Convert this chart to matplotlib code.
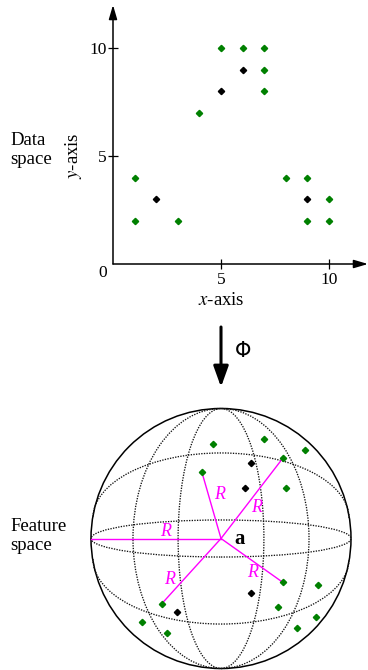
import numpy as np
import matplotlib
matplotlib.use("Agg")
import matplotlib.pyplot as plt
from matplotlib.patches import Ellipse, Arc

plt.rcParams["mathtext.fontset"] = "stix"

# --- data space (x, y) ---
green_x = [1, 1, 3, 4, 5, 6, 7, 7, 7, 8, 9, 9, 10, 10]
green_y = [4, 2, 2, 7, 10, 10, 10, 9, 8, 4, 4, 2, 3, 2]
black_x = [2, 5, 6, 9]
black_y = [3, 8, 9, 3]
x_ticks = [5, 10]
y_ticks = [5, 10]

# --- feature space, unit-sphere coordinates (centre = a) ---
feat_green_x = [-0.064, 0.331, 0.646, 0.475, -0.148, 0.500, 0.475, 0.746,
                -0.456, 0.436, -0.605, 0.728, -0.418, 0.582]
feat_green_y = [0.725, 0.765, 0.681, 0.617, 0.514, 0.391, -0.337, -0.358,
                -0.502, -0.525, -0.645, -0.606, -0.729, -0.691]
feat_black_x = [0.228, 0.185, 0.228, -0.336]
feat_black_y = [0.578, 0.391, -0.417, -0.565]
# radius lines: to left rim, then to these green points (support vectors)
sv_index = [4, 3, 6, 8]

SERIF = ["Liberation Serif", "DejaVu Serif"]
GREEN = "#008000"
MAGENTA = "#ff00ff"

W, H = 368, 670
CX, CY, RAD = 221, 538.5, 130.0   # sphere centre / radius in pixels

fig = plt.figure(figsize=(W / 100, H / 100), dpi=100)

# background axes in sphere units (130 px per unit), covers whole figure
bg = fig.add_axes([0, 0, 1, 1])
bg.set_xlim(-CX / RAD, (W - CX) / RAD)
bg.set_ylim((CY - H) / RAD, CY / RAD)
bg.axis("off")

# sphere outline + grid
bg.add_patch(Ellipse((0, 0), 2, 2, fill=False, lw=1.1, color="k"))
dots = dict(fill=False, lw=0.95, color="#111111", linestyle=(0, (1, 1)))
bg.add_patch(Ellipse((0, 0), 2, 0.285, **dots))
bg.add_patch(Arc((0, 0.158), 1.97, 1.0, theta1=0, theta2=180, **dots))
bg.add_patch(Arc((0, -0.158), 1.97, 1.0, theta1=180, theta2=360, **dots))
bg.add_patch(Ellipse((0, 0), 0.66, 2, **dots))
bg.add_patch(Ellipse((0, 0), 1.354, 2, **dots))

# radii
ends = [(-1.0, 0.0)] + [(feat_green_x[i], feat_green_y[i]) for i in sv_index]
for ex, ey in ends:
    bg.plot([0, ex], [0, ey], color=MAGENTA, lw=1.0)
r_pos = [(-0.423, 0.05), (-0.008, 0.335), (0.275, 0.235), (0.244, -0.265), (-0.398, -0.319)]
for rx, ry in r_pos:
    bg.text(rx, ry, "R", color=MAGENTA, fontsize=13, style="italic",
            family=SERIF, ha="center", va="center")
bg.text(0.146, 0.0, "a", fontsize=15, fontweight="bold", family=SERIF,
        ha="center", va="center")

bg.plot(feat_green_x, feat_green_y, "D", color=GREEN, ms=3.2, mec=GREEN)
bg.plot(feat_black_x, feat_black_y, "D", color="k", ms=3.2)

# mapping arrow
bg.annotate("", xy=(0, (CY - 387) / RAD), xytext=(0, (CY - 327) / RAD),
            arrowprops=dict(arrowstyle="-|>,head_length=1.25,head_width=0.45",
                            mutation_scale=10, lw=2.2, color="k",
                            shrinkA=0, shrinkB=0))
bg.text((243 - CX) / RAD, (CY - 351) / RAD, "Φ", fontsize=15,
        family="DejaVu Sans", ha="center", va="center")

fig.text(10 / W, 1 - 150 / H, "Data\nspace", fontsize=13.5, family=SERIF,
         ha="left", va="center", linespacing=1.15)
fig.text(10 / W, 1 - 536 / H, "Feature\nspace", fontsize=13.5, family=SERIF,
         ha="left", va="center", linespacing=1.15)

# data space axes: 21.6 px per unit, origin at (113, 264) px
unit = 21.6
xmax = (368 - 113) / unit
ymax = (264 - 5) / unit
ax = fig.add_axes([113 / W, (H - 264) / H, xmax * unit / W, ymax * unit / H])
ax.patch.set_alpha(0)
ax.set_xlim(0, xmax)
ax.set_ylim(0, ymax)
for s in ax.spines.values():
    s.set_visible(False)

ax.plot(green_x, green_y, "D", color=GREEN, ms=3.2, mec=GREEN, clip_on=False)
ax.plot(black_x, black_y, "D", color="k", ms=3.2, clip_on=False)

axis_arrow = dict(arrowstyle="-|>,head_length=0.85,head_width=0.25",
                  mutation_scale=10, lw=1.1, color="k", shrinkA=0, shrinkB=0)
ax.annotate("", xy=(0, ymax), xytext=(0, 0), arrowprops=axis_arrow,
            annotation_clip=False)
ax.annotate("", xy=(xmax, 0), xytext=(0, 0), arrowprops=axis_arrow,
            annotation_clip=False)

ax.set_xticks(x_ticks)
ax.set_yticks(y_ticks)
ax.tick_params(direction="inout", length=7, width=0.9, labelsize=12.5)
ax.tick_params(axis="x", pad=2)
ax.tick_params(axis="y", pad=1)
for lab in ax.get_xticklabels() + ax.get_yticklabels():
    lab.set_family(SERIF)
ax.annotate("0", xy=(0, 0), xytext=(-10, -9), textcoords="offset pixels",
            fontsize=12.5, family=SERIF, ha="center", va="center",
            annotation_clip=False)

ax.set_xlabel("$x$-axis", fontsize=13.5, family=SERIF)
ax.set_ylabel("$y$-axis", fontsize=13.5, family=SERIF)
ax.yaxis.set_label_coords(-29 / (xmax * unit), 5 / ymax)
ax.xaxis.set_label_coords(5 / xmax, -28 / (ymax * unit))

fig.savefig("out.png", dpi=100)
